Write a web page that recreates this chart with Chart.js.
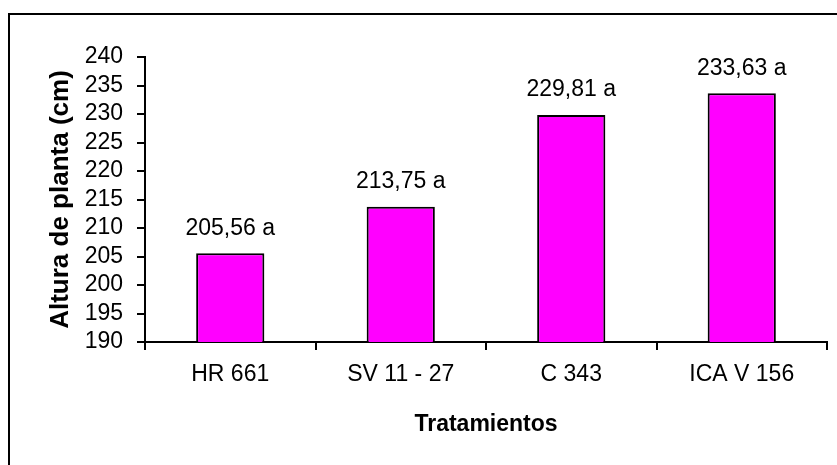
<!DOCTYPE html>
<html>
<head>
<meta charset="utf-8">
<script src="https://cdn.jsdelivr.net/npm/chart.js@4.4.1/dist/chart.umd.min.js"></script>
<style>
  html, body { margin: 0; padding: 0; background: #ffffff; }
  #wrap { position: relative; width: 837px; height: 465px; }
  canvas { display: block; }
</style>
</head>
<body>
<div id="wrap"><canvas id="c" width="837" height="465"></canvas></div>
<script>
const categories = ['HR 661', 'SV 11 - 27', 'C 343', 'ICA V 156'];
const alturas = [205.56, 213.75, 229.81, 233.63];
const letras = ['a', 'a', 'a', 'a'];
const yMin = 190, yMax = 240, yStep = 5;
const yTitle = 'Altura de planta (cm)';
const xTitle = 'Tratamientos';

const FONT = "'Liberation Sans', Arial, sans-serif";

const frame = {
  id: 'frame',
  beforeDraw(chart) {
    const ctx = chart.ctx;
    ctx.save();
    ctx.fillStyle = '#ffffff';
    ctx.fillRect(0, 0, chart.width, chart.height);
    ctx.fillStyle = '#000000';
    ctx.fillRect(8, 13, 2, chart.height);
    ctx.fillRect(8, 13, chart.width, 2);
    ctx.restore();
  }
};

const labelsPlugin = {
  id: 'barLabels',
  afterDatasetsDraw(chart) {
    const ctx = chart.ctx;
    const meta = chart.getDatasetMeta(0);
    ctx.save();
    ctx.font = '23px ' + FONT;
    ctx.fillStyle = '#000000';
    ctx.textAlign = 'center';
    ctx.textBaseline = 'middle';
    meta.data.forEach((bar, i) => {
      const txt = alturas[i].toFixed(2).replace('.', ',') + ' ' + letras[i];
      ctx.fillText(txt, bar.x, bar.y - 25);
    });
    ctx.restore();
  }
};

new Chart(document.getElementById('c'), {
  type: 'bar',
  data: {
    labels: categories,
    datasets: [{
      data: alturas,
      backgroundColor: '#FF00FF',
      borderColor: '#000000',
      borderWidth: 2,
      barPercentage: 0.4,
      categoryPercentage: 1.0
    }]
  },
  options: {
    responsive: false,
    animation: false,
    devicePixelRatio: 1,
    layout: { padding: { top: 57, right: 10, left: 0, bottom: 0 } },
    plugins: { legend: { display: false }, tooltip: { enabled: false } },
    scales: {
      x: {
        afterFit(scale) { scale.height = 123; },
        grid: { display: true, drawOnChartArea: false, drawTicks: true, tickLength: 8, color: '#000000', lineWidth: 2, offset: true },
        border: { display: true, color: '#000000', width: 2 },
        ticks: { color: '#000000', font: { family: FONT, size: 23 }, padding: 11, maxRotation: 0, autoSkip: false },
        title: { display: true, text: xTitle, color: '#000000', font: { family: FONT, size: 23, weight: 'bold' }, padding: { top: 0, bottom: 27 } }
      },
      y: {
        min: yMin, max: yMax,
        afterFit(scale) { scale.width = 145; },
        grid: { display: true, drawOnChartArea: false, drawTicks: true, tickLength: 8, color: '#000000', lineWidth: 2 },
        border: { display: true, color: '#000000', width: 2 },
        ticks: { stepSize: yStep, autoSkip: false, color: '#000000', font: { family: FONT, size: 23, lineHeight: 1.0 }, padding: 14 },
        title: { display: true, text: yTitle, color: '#000000', font: { family: FONT, size: 26, weight: 'bold' }, padding: { top: 45, bottom: 0 } }
      }
    }
  },
  plugins: [frame, labelsPlugin]
});
</script>
</body>
</html>
